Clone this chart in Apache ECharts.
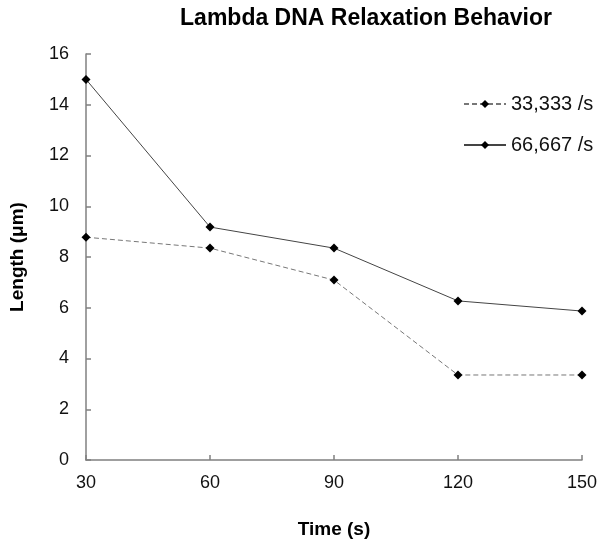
<!DOCTYPE html>
<html><head><meta charset="utf-8">
<script src="https://cdn.jsdelivr.net/npm/echarts@6/dist/echarts.min.js"></script>
<style>html,body{margin:0;padding:0;background:#fff}#c{width:600px;height:546px}</style>
</head><body><div id="c"></div>
<script>
const times = [30, 60, 90, 120, 150];
const seriesNames = ['33,333 /s', '66,667 /s'];
const low = [8.78, 8.35, 7.09, 3.35, 3.35];
const high = [15.0, 9.18, 8.35, 6.27, 5.87];
const yTicks = [0, 2, 4, 6, 8, 10, 12, 14, 16];

const font = 'Liberation Sans, Arial, sans-serif';
const chart = echarts.init(document.getElementById('c'));
chart.setOption({
  animation: false,
  title: { text: 'Lambda DNA Relaxation Behavior', left: 361, textAlign: 'center', top: 2,
    textStyle: { fontFamily: font, fontSize: 23, fontWeight: 'bold', color: '#000' } },
  legend: { orient: 'vertical', left: 458, top: 89, itemGap: 21, itemWidth: 42, itemHeight: 10,
    textStyle: { fontFamily: font, fontSize: 20, color: '#111' },
    data: seriesNames },
  grid: { left: 85, right: 17, top: 54, bottom: 86 },
  xAxis: { type: 'value', min: 30, max: 150, interval: 30,
    name: 'Time (s)', nameLocation: 'middle', nameGap: 60,
    nameTextStyle: { fontFamily: font, fontSize: 19, fontWeight: 'bold', color: '#000' },
    axisLine: { lineStyle: { color: '#808080', width: 1.5 } },
    axisTick: { inside: true, length: 5, lineStyle: { color: '#808080', width: 1.5 } },
    axisLabel: { fontFamily: font, fontSize: 18, color: '#111', margin: 14 },
    splitLine: { show: false } },
  yAxis: { type: 'value', min: 0, max: 16, interval: 2,
    name: 'Length (μm)', nameLocation: 'middle', nameGap: 59, nameRotate: 90,
    nameTextStyle: { fontFamily: font, fontSize: 19, fontWeight: 'bold', color: '#000' },
    axisLine: { show: true, lineStyle: { color: '#808080', width: 1.5 } },
    axisTick: { show: true, inside: true, length: 5, lineStyle: { color: '#808080', width: 1.5 } },
    axisLabel: { fontFamily: font, fontSize: 18, color: '#111', margin: 17,
      formatter: v => yTicks.includes(v) ? String(v) : '' },
    splitLine: { show: false } },
  series: [
    { name: seriesNames[0], type: 'line', data: times.map((t, i) => [t, low[i]]),
      symbol: 'diamond', symbolSize: 9, itemStyle: { color: '#000' },
      lineStyle: { color: '#777', width: 1, type: [5, 3] } },
    { name: seriesNames[1], type: 'line', data: times.map((t, i) => [t, high[i]]),
      symbol: 'diamond', symbolSize: 9, itemStyle: { color: '#000' },
      lineStyle: { color: '#444', width: 1 } }
  ]
});
</script></body></html>
